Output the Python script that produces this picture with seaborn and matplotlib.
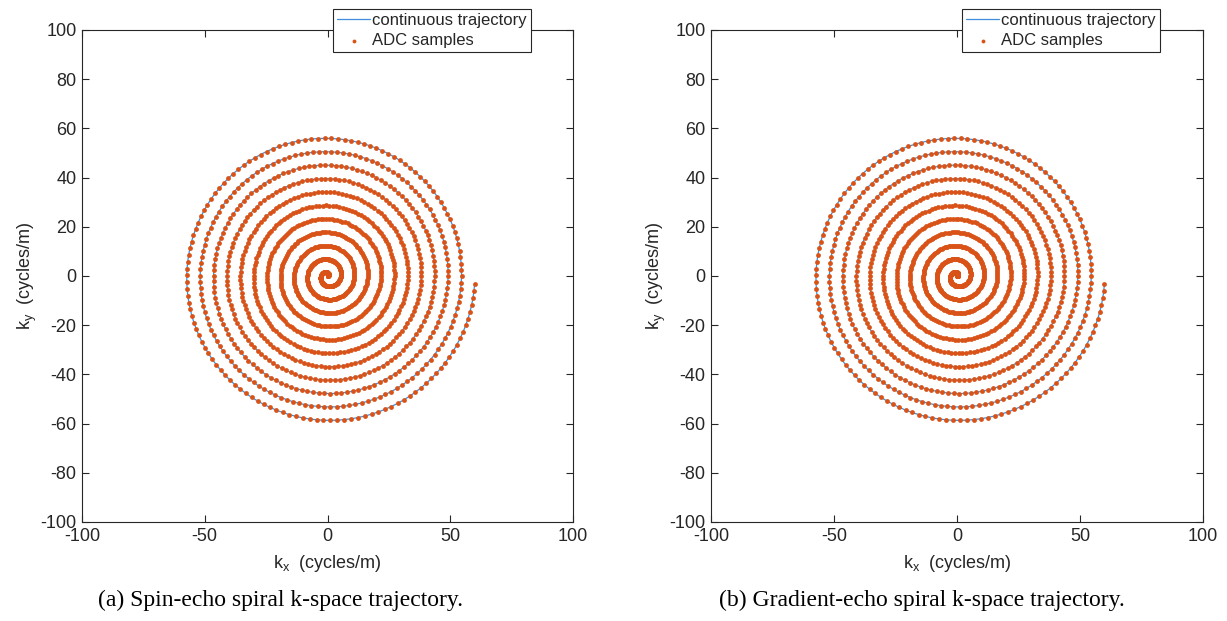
import numpy as np
import pandas as pd
import matplotlib
matplotlib.use("Agg")
import matplotlib.pyplot as plt
import seaborn as sns

# ---- values ----
n_turns = 11              # number of spiral turns
k_max = 60.0              # final k-space radius (cycles/m)
end_angle_deg = -3.0      # angle of the trajectory end point
samples_per_turn = 130    # ADC samples per revolution
x_ticks = [-100, -50, 0, 50, 100]
y_ticks = [-100, -80, -60, -40, -20, 0, 20, 40, 60, 80, 100]
captions = ["(a) Spin-echo spiral k-space trajectory.",
            "(b) Gradient-echo spiral k-space trajectory."]
legend_labels = ["continuous trajectory", "ADC samples"]

theta_end = 2 * np.pi * n_turns + np.deg2rad(end_angle_deg)

def trajectory(n):
    th = np.linspace(0, theta_end, n)
    r = k_max * th / theta_end
    return pd.DataFrame({"kx": r * np.cos(th), "ky": r * np.sin(th), "i": np.arange(n)})

cont = trajectory(20000)
adc = trajectory(int(samples_per_turn * n_turns))

sns.set_theme(style="white")
plt.rcParams["font.family"] = ["Liberation Sans", "DejaVu Sans"]
plt.rcParams["mathtext.fontset"] = "custom"
plt.rcParams["mathtext.rm"] = "Liberation Sans"
plt.rcParams["mathtext.it"] = "Liberation Sans"
plt.rcParams["axes.unicode_minus"] = False

W, H = 1227, 621
fig = plt.figure(figsize=(W / 100, H / 100), dpi=100)

line_c = "#3f8fdc"
dot_c = "#D95319"
axes_px = [(82, 30, 491, 492), (711, 30, 492, 492)]
leg_px = [(333, 9), (962, 9)]
cap_x = [280, 922]

for k, (x0, y0, w, h) in enumerate(axes_px):
    ax = fig.add_axes([x0 / W, 1 - (y0 + h) / H, w / W, h / H])
    sns.lineplot(data=cont, x="kx", y="ky", sort=False, estimator=None,
                 color=line_c, linewidth=0.9, ax=ax, label=legend_labels[0])
    sns.scatterplot(data=adc, x="kx", y="ky", color=dot_c, s=12, linewidth=0,
                    ax=ax, label=legend_labels[1], zorder=3)
    ax.set_xlim(-100, 100)
    ax.set_ylim(-100, 100)
    ax.set_xticks(x_ticks)
    ax.set_yticks(y_ticks)
    ax.tick_params(direction="in", length=5, width=0.8, top=True, right=True,
                   labelsize=13, colors="#262626", pad=4,
                   bottom=True, left=True)
    for sp in ax.spines.values():
        sp.set_color("#262626")
        sp.set_linewidth(0.8)
    ax.set_xlabel(r"k$_\mathrm{x}$  (cycles/m)", fontsize=13, color="#262626", labelpad=6)
    ax.set_ylabel(r"k$_\mathrm{y}$  (cycles/m)", fontsize=13, color="#262626", labelpad=1)
    lg = ax.legend(loc="upper left",
                   bbox_to_anchor=(leg_px[k][0] / W, 1 - leg_px[k][1] / H),
                   bbox_transform=fig.transFigure, fontsize=12, frameon=True,
                   fancybox=False, framealpha=1, edgecolor="#262626",
                   borderpad=0.25, labelspacing=0.3, handlelength=2.0,
                   handletextpad=0.1, borderaxespad=0, markerscale=0.8)
    lg.get_frame().set_linewidth(0.8)
    lg.set_zorder(10)
    fig.text(cap_x[k] / W, 1 - 600 / H, captions[k], ha="center", va="center",
             fontsize=17, family="Liberation Serif", color="black")

fig.savefig("out.png", dpi=100)
